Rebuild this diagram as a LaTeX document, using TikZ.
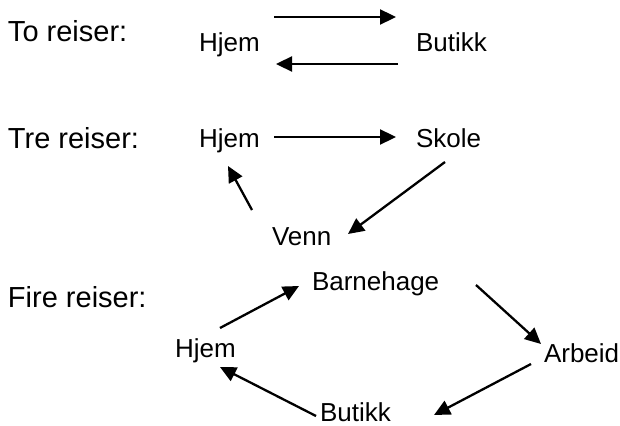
\documentclass[tikz,border=0pt]{standalone}
\usepackage{fontspec}
\setmainfont{Liberation Sans}
\usetikzlibrary{arrows.meta}
\begin{document}
\begin{tikzpicture}[x=1pt,y=-1pt,
  caption/.style={anchor=base west,inner sep=0pt,outer sep=0pt,font=\fontsize{29}{32}\selectfont},
  place/.style={anchor=base west,inner sep=0pt,outer sep=0pt,font=\fontsize{26}{29}\selectfont},
  trip/.style={line width=2.3pt,-{Triangle[length=16pt,width=15pt]}}]
\useasboundingbox (0,0) rectangle (620,425);
% captions
\node[caption] (c1) at (8,42) {To reiser:};
\node[caption] (c2) at (8,148) {Tre reiser:};
\node[caption] (c3) at (8,307) {Fire reiser:};
% places
\node[place] (hjemA) at (199,52) {Hjem};
\node[place] (butikkA) at (416,52) {Butikk};
\node[place] (hjemB) at (199,147) {Hjem};
\node[place] (skole) at (416,147) {Skole};
\node[place] (venn) at (272,245) {Venn};
\node[place] (barnehage) at (312,290) {Barnehage};
\node[place] (hjemC) at (175,357) {Hjem};
\node[place] (arbeid) at (544,362) {Arbeid};
\node[place] (butikkC) at (320,421) {Butikk};
% arrow ends
\coordinate (a1s) at (274,17); \coordinate (a1e) at (396,17);
\coordinate (a2s) at (398,64); \coordinate (a2e) at (276,64);
\coordinate (a3s) at (274,137); \coordinate (a3e) at (396,137);
\coordinate (a4s) at (445,162); \coordinate (a4e) at (348,234);
\coordinate (a5s) at (252,210); \coordinate (a5e) at (228,166);
\coordinate (a6s) at (220,328); \coordinate (a6e) at (299,286);
\coordinate (a7s) at (476,285); \coordinate (a7e) at (541,344);
\coordinate (a8s) at (531,364); \coordinate (a8e) at (434,415);
\coordinate (a9s) at (316,416); \coordinate (a9e) at (220,367);
\draw[trip] (a1s) -- (a1e);
\draw[trip] (a2s) -- (a2e);
\draw[trip] (a3s) -- (a3e);
\draw[trip] (a4s) -- (a4e);
\draw[trip] (a5s) -- (a5e);
\draw[trip] (a6s) -- (a6e);
\draw[trip] (a7s) -- (a7e);
\draw[trip] (a8s) -- (a8e);
\draw[trip] (a9s) -- (a9e);
\end{tikzpicture}
\end{document}
